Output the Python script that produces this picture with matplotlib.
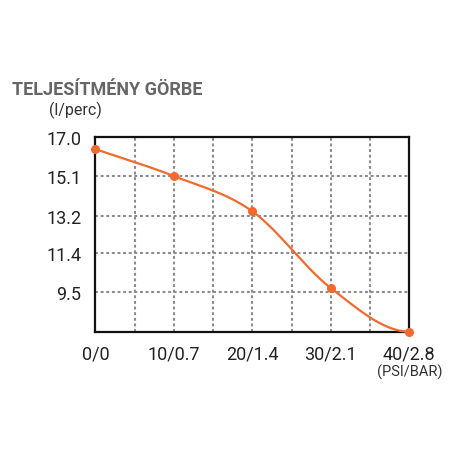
import matplotlib
matplotlib.use("Agg")
import matplotlib.pyplot as plt
import numpy as np

# data
pressure = [0, 10, 20, 30, 40]
flow = [16.4, 15.1, 13.4, 9.7, 7.6]
x_labels = ["0/0", "10/0.7", "20/1.4", "30/2.1", "40/2.8"]
y_ticks = [17.0, 15.1, 13.2, 11.4, 9.5]
y_labels = ["17.0", "15.1", "13.2", "11.4", "9.5"]

ORANGE = "#F26A2E"


def smooth(xs, ys, n=40):
    # cubic hermite, catmull-rom tangents, flat at the end
    xs = np.asarray(xs, float)
    ys = np.asarray(ys, float)
    m = np.zeros(len(xs))
    m[0] = (ys[1] - ys[0]) / (xs[1] - xs[0])
    for i in range(1, len(xs) - 1):
        m[i] = (ys[i + 1] - ys[i - 1]) / (xs[i + 1] - xs[i - 1])
    m[-1] = 0.0
    outx, outy = [], []
    for i in range(len(xs) - 1):
        h = xs[i + 1] - xs[i]
        t = np.linspace(0, 1, n)
        h00 = 2 * t**3 - 3 * t**2 + 1
        h10 = t**3 - 2 * t**2 + t
        h01 = -2 * t**3 + 3 * t**2
        h11 = t**3 - t**2
        outx.extend(xs[i] + t * h)
        outy.extend(h00 * ys[i] + h10 * h * m[i] + h01 * ys[i + 1] + h11 * h * m[i + 1])
    return np.array(outx), np.array(outy)


plt.rcParams["font.family"] = ["Roboto", "DejaVu Sans"]

fig = plt.figure(figsize=(4.56, 4.56), dpi=100)
ax = fig.add_axes([0.2094, 0.2704, 0.6882, 0.4276])

sx, sy = smooth(pressure, flow)
ax.plot(sx, sy, color=ORANGE, lw=1.6, zorder=3, clip_on=False)
ax.plot(pressure, flow, "o", color=ORANGE, ms=5.5, zorder=4, clip_on=False)

ax.set_xlim(0, 40)
ax.set_ylim(7.6, 17.0)

# dashed grid
dash = (0, (1.4, 1.3))
for gx in np.arange(5, 40, 5):
    ax.axvline(gx, color="#8c8c8c", lw=1.5, ls=dash, zorder=1)
for gy in y_ticks[1:]:
    ax.axhline(gy, color="#8c8c8c", lw=1.5, ls=dash, zorder=1)

ax.set_xticks(pressure)
ax.set_xticklabels(x_labels)
ax.set_yticks(y_ticks)
ax.set_yticklabels(y_labels)
ax.tick_params(length=0, labelsize=13, colors="#222222", pad=9)
ax.tick_params(axis="y", pad=10)

for s in ax.spines.values():
    s.set_linewidth(1.6)
    s.set_color("#111111")

fig.text(0.026, 0.803, "TELJESÍTMÉNY GÖRBE", fontsize=13, fontweight="bold",
         color="#666666", va="center", ha="left")
fig.text(0.108, 0.757, "(l/perc)", fontsize=11.5, color="#333333",
         va="center", ha="left")
fig.text(0.898, 0.183, "(PSI/BAR)", fontsize=10.5, color="#333333",
         va="center", ha="center")

fig.savefig("out.png", dpi=100, facecolor="white")
